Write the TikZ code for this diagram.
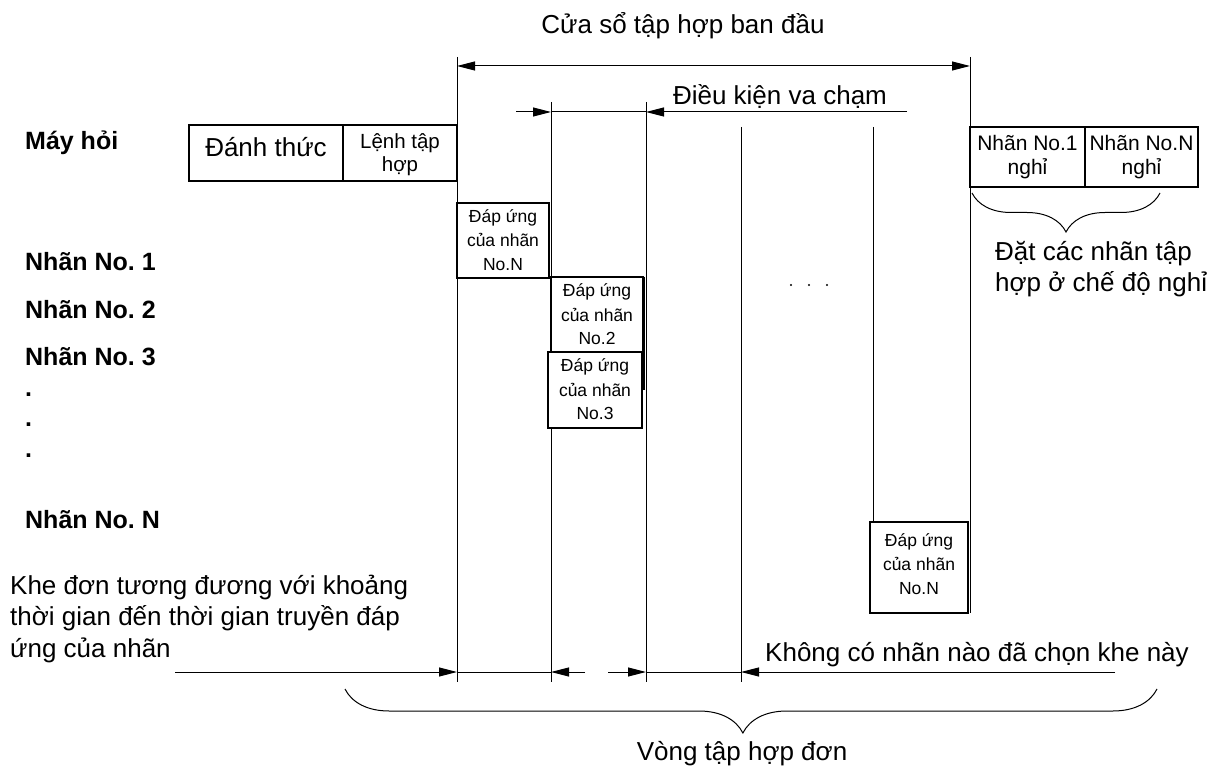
\documentclass[tikz,border=0pt]{standalone}
\usepackage{fontspec}
\setmainfont{Liberation Sans}
\frenchspacing
\usetikzlibrary{arrows.meta,decorations.pathreplacing}
\begin{document}
\begin{tikzpicture}[x=1pt,y=-1pt,
  vline/.style={line width=1pt},
  box/.style={draw,line width=1.6pt,inner sep=0pt},
  dimarrow/.style={line width=1pt,-{Triangle[length=18pt,width=9pt]}},
  bothdim/.style={line width=1pt,{Triangle[length=18pt,width=9pt]}-{Triangle[length=18pt,width=9pt]}},
  big/.style={font=\fontsize{26}{31.5}\selectfont,inner sep=0pt},
  side/.style={font=\bfseries\fontsize{25}{30}\selectfont,anchor=base west,inner sep=0pt},
  mid/.style={font=\fontsize{20.5}{23.5}\selectfont,align=center,anchor=base,inner sep=0pt},
  resp/.style={font=\fontsize{17.5}{24}\selectfont,align=center,anchor=base,inner sep=0pt},
  bracestyle/.style={decorate,line width=1pt}
]
\useasboundingbox (0,0) rectangle (1211,767);

% ---- left labels
\node[side] (mh) at (25,150) {Máy hỏi};
\node[side] (t1) at (25,271) {Nhãn No. 1};
\node[side] (t2) at (25,319) {Nhãn No. 2};
\node[side] (t3) at (25,366) {Nhãn No. 3};
\node[side] (d1) at (25,397) {.};
\node[side] (d2) at (25,427) {.};
\node[side] (d3) at (25,457) {.};
\node[side] (tN) at (25,528) {Nhãn No. N};

% ---- interrogator boxes
\node[box,minimum width=154pt,minimum height=56pt] (wake) at (266,153) {};
\node[big,anchor=base] (waket) at (266,157) {Đánh thức};
\node[box,minimum width=114pt,minimum height=56pt] (cmd) at (400,153) {};
\node[mid] (cmdt) at (400,172) {Lệnh tập\\hợp};

% ---- vertical slot lines
\coordinate (v1t) at (457,57);  \coordinate (v1b) at (457,682);
\coordinate (v2t) at (551,102); \coordinate (v2b) at (551,682);
\coordinate (v3t) at (646,102); \coordinate (v3b) at (646,682);
\coordinate (v4t) at (741,127); \coordinate (v4b) at (741,682);
\coordinate (v5t) at (873,127); \coordinate (v5b) at (873,522);
\coordinate (v6t) at (970,57);  \coordinate (v6b) at (970,613);
\foreach \i in {1,...,6} {\draw[vline] (v\i t) -- (v\i b);}

% ---- initial window
\coordinate (wl) at (457,66); \coordinate (wr) at (970,66);
\draw[bothdim] (wl) -- (wr);
\node[big,anchor=base] (wint) at (683,34) {Cửa sổ tập hợp ban đầu};

% ---- collision
\coordinate (c0) at (516,112); \coordinate (c1) at (551,112);
\coordinate (c2) at (646,112); \coordinate (c3) at (907,112);
\draw[dimarrow] (c0) -- (c1);
\draw[vline] (c1) -- (c2);
\draw[dimarrow] (c3) -- (c2);
\node[big,anchor=base] (collt) at (780,105) {Điều kiện va chạm};

% ---- tag responses
\node[box,minimum width=92pt,minimum height=75pt] (rN) at (503,240.5) {};
\node[resp] (rNt) at (503,271) {Đáp ứng\\của nhãn\\No.N};
\node[box,minimum width=92pt,minimum height=76pt] (r2) at (597,315) {};
\node[resp] (r2t) at (597,345) {Đáp ứng\\của nhãn\\No.2};
\draw[line width=2pt] (644,277) -- (644,390);
\node[box,fill=white,minimum width=94pt,minimum height=76pt] (r3) at (595,390) {};
\node[resp] (r3t) at (595,420) {Đáp ứng\\của nhãn\\No.3};
\node[box,fill=white,minimum width=98pt,minimum height=91pt] (rNN) at (919,567.5) {};
\node[resp] (rNNt) at (919,594) {Đáp ứng\\của nhãn\\No.N};

\node[inner sep=0pt] (ell) at (809,285) {};
\foreach \dx in {-18,0,18} {\fill (809+\dx,285) circle (1.1pt);}

% ---- sleep boxes
\node[box,minimum width=115pt,minimum height=60pt] (s1) at (1027.5,157) {};
\node[mid,font=\fontsize{21}{24}\selectfont] (s1t) at (1027.5,175) {Nhãn No.1\\nghỉ};
\node[box,minimum width=113pt,minimum height=60pt] (sN) at (1141.5,157) {};
\node[mid,font=\fontsize{21}{24}\selectfont] (sNt) at (1141.5,175) {Nhãn No.N\\nghỉ};
\coordinate (sb0) at (972,193); \coordinate (sb1) at (1160,193);
\draw[bracestyle,decoration={brace,mirror,amplitude=39pt,aspect=0.5}] (sb0) -- (sb1);
\node[big,align=left,anchor=base west] (sleept) at (995,292) {Đặt các nhãn tập\\hợp ở chế độ nghỉ};

% ---- bottom dimensions
\coordinate (b0) at (175,672); \coordinate (b1) at (457,672);
\coordinate (b2) at (551,672); \coordinate (b2r) at (585,672);
\coordinate (b3l) at (608,672); \coordinate (b3) at (646,672);
\coordinate (b4) at (741,672); \coordinate (b5) at (1115,672);
\draw[dimarrow] (b0) -- (b1);
\draw[vline] (b1) -- (b2);
\draw[dimarrow] (b2r) -- (b2);
\draw[dimarrow] (b3l) -- (b3);
\draw[vline] (b3) -- (b4);
\draw[dimarrow] (b5) -- (b4);
\node[big,align=left,anchor=base west] (slott) at (10,657) {Khe đơn tương đương với khoảng\\thời gian đến thời gian truyền đáp\\ứng của nhãn};
\node[big,anchor=base west] (nonet) at (765,661) {Không có nhãn nào đã chọn khe này};

% ---- round brace
\coordinate (rb0) at (345,689); \coordinate (rb1) at (1157,689);
\draw[bracestyle,decoration={brace,mirror,amplitude=44pt,aspect=0.49}] (rb0) -- (rb1);
\node[big,anchor=base] (roundt) at (742,760) {Vòng tập hợp đơn};
\end{tikzpicture}
\end{document}
